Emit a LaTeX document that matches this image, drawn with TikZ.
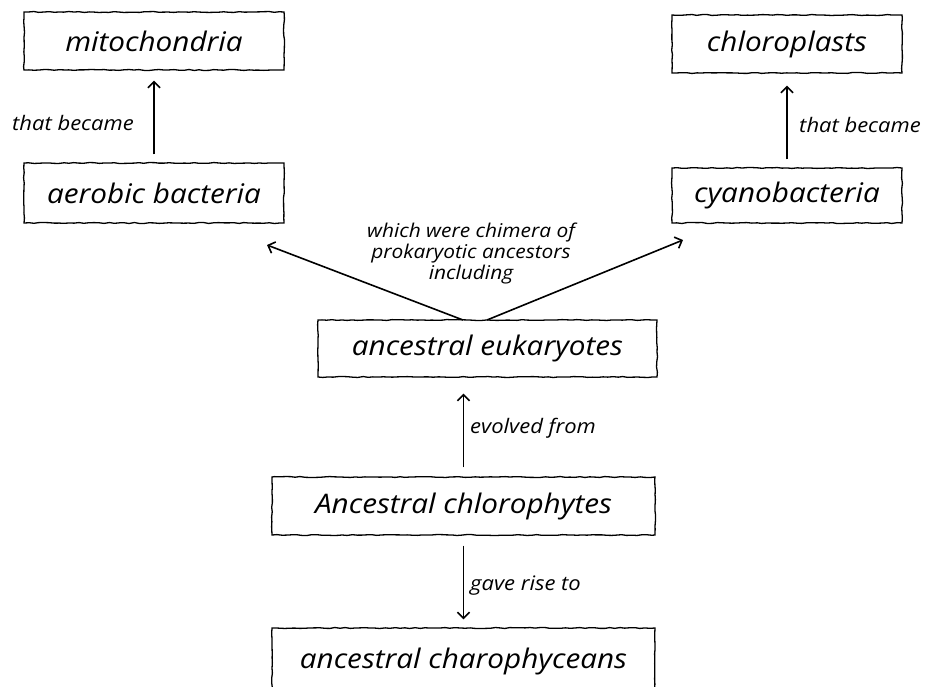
\documentclass[tikz,border=0pt]{standalone}
\usepackage{fontspec}
\setmainfont{Open Sans}[FakeStretch=1.1]
\usetikzlibrary{arrows.meta,decorations.pathmorphing,calc}
\begin{document}
\begin{tikzpicture}[x=1pt,y=-1pt,
  boxfont/.style={font=\fontsize{27}{30}\selectfont\itshape},
  box/.style={draw, line width=1.3pt, inner sep=0pt, decorate,
    decoration={random steps, segment length=5pt, amplitude=0.5pt}, boxfont},
  lbl/.style={font=\fontsize{20}{21}\selectfont\itshape, inner sep=0pt},
  conn/.style={line width=1.6pt, -{Straight Barb[length=6pt,width=12pt]}}]
\pgfmathsetseed{7}
\clip (0,0) rectangle (926,686);
\node[box, minimum width=260pt, minimum height=58pt] (mito) at (154,41) {mitochondria};
\node[box, minimum width=260pt, minimum height=60pt] (aero) at (154,193) {aerobic bacteria};
\node[box, minimum width=230pt, minimum height=58pt] (chlo) at (787,44) {chloroplasts};
\node[box, minimum width=230pt, minimum height=55pt] (cyan) at (787,195.5) {cyanobacteria};
\node[box, minimum width=339pt, minimum height=57pt] (euk) at (487.5,348.5) {ancestral eukaryotes};
\node[box, minimum width=383pt, minimum height=58pt] (chph) at (463.5,506) {Ancestral chlorophytes};
\node[box, minimum width=383pt, minimum height=76pt] (charo) at (463.5,666) {};
\node[boxfont, inner sep=0pt] (charot) at (463.5,661) {ancestral charophyceans};

\draw[conn, shorten <=8pt, shorten >=10pt] (aero.north) -- (mito.south);
\node[lbl] (l1) at (73,123) {that became};
\draw[conn, shorten <=8pt, shorten >=12pt] (cyan.north) -- (chlo.south);
\node[lbl] (l2) at (860,125) {that became};

\coordinate (eL) at (463,320);
\coordinate (eR) at (487,320);
\coordinate (tL) at (267,245);
\coordinate (tR) at (683,240);
\draw[conn] (eL) -- (tL);
\draw[conn] (eR) -- (tR);
\node[lbl, font=\fontsize{19}{21}\selectfont\itshape, align=center] (l3) at (471,254) {which were chimera of\\prokaryotic ancestors\\including};

\draw[conn, shorten <=9pt, shorten >=16pt] (chph.north) -- (chph.north |- euk.south);
\node[lbl, anchor=west] (l4) at (470,428) {evolved from};
\draw[conn, shorten <=10pt, shorten >=8pt] (chph.south) -- (chph.south |- charo.north);
\node[lbl, anchor=west] (l5) at (470,586) {gave rise to};
\end{tikzpicture}
\end{document}
